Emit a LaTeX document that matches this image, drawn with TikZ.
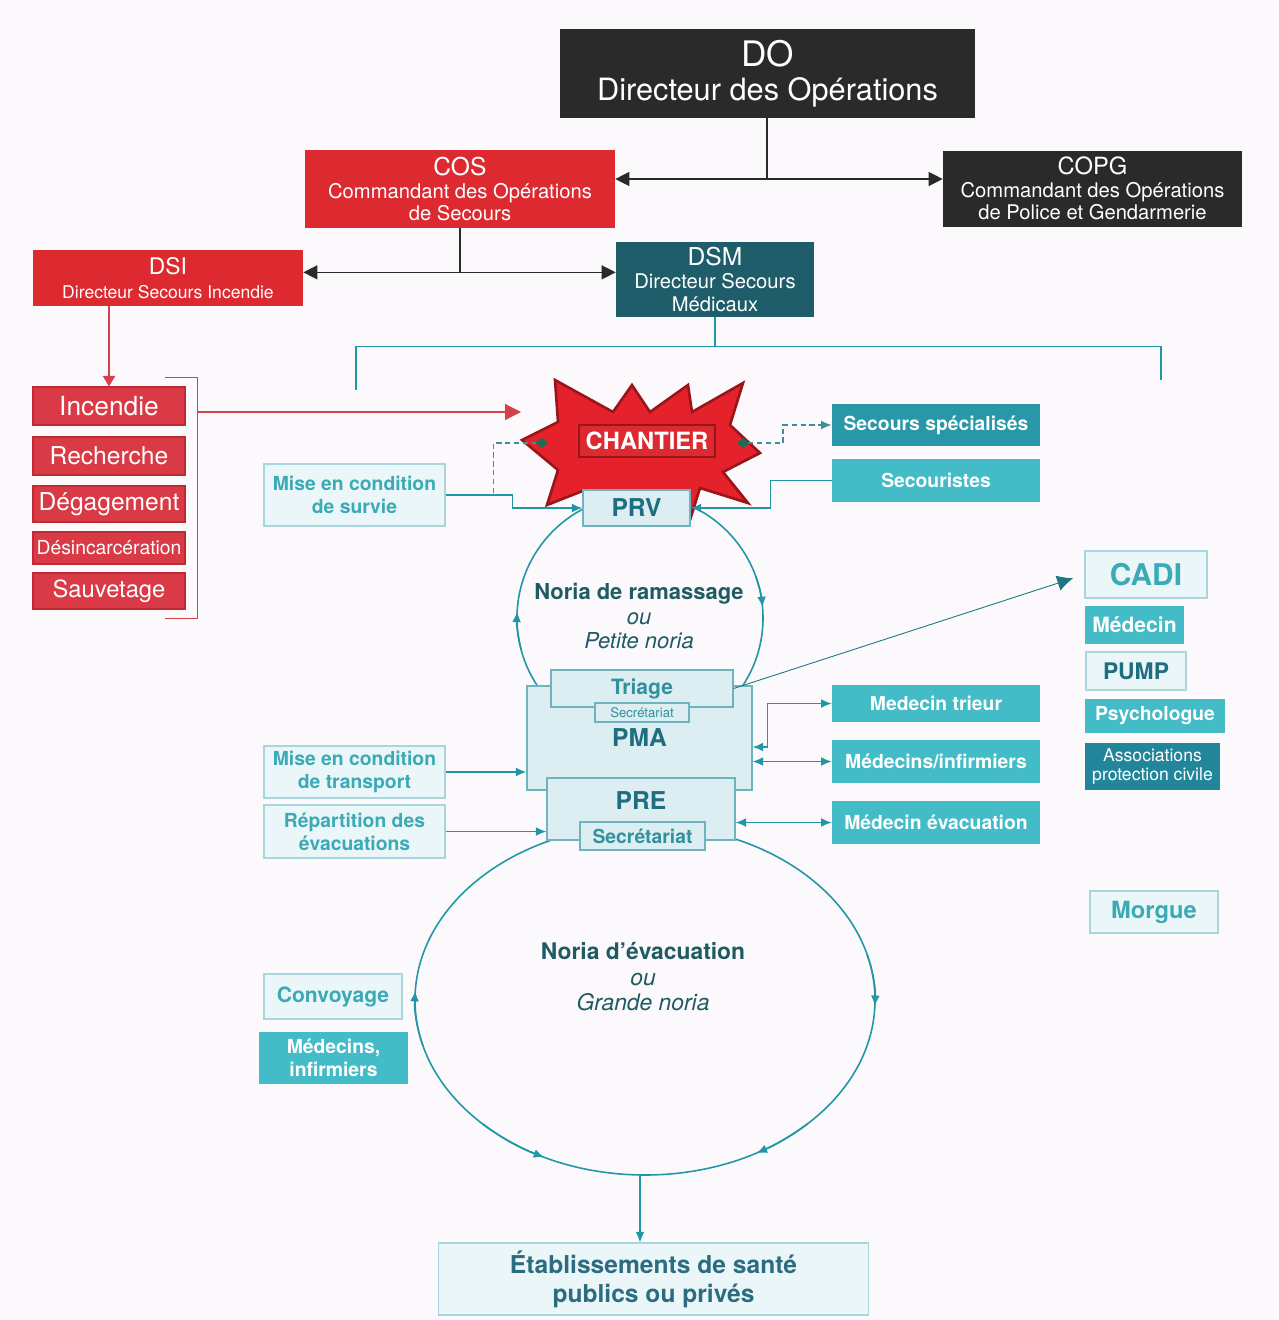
\documentclass[tikz,border=0pt]{standalone}
\usepackage{fontspec}
\setmainfont{TeX Gyre Heros}
\usepackage{xcolor}
\usepackage{tikz}
\usetikzlibrary{arrows.meta,positioning,calc}

\definecolor{bgpaper}{HTML}{FCF9FC}
\definecolor{dochar}{HTML}{2A2A2A}
\definecolor{cosred}{HTML}{DD2A31}
\definecolor{actred}{HTML}{D93A45}
\definecolor{actredline}{HTML}{BF2A35}
\definecolor{redline}{HTML}{D4414B}
\definecolor{dsmteal}{HTML}{1E5D69}
\definecolor{tealA}{HTML}{43BCC8}
\definecolor{tealB}{HTML}{2898A8}
\definecolor{tealC}{HTML}{21869A}
\definecolor{lightfill}{HTML}{EBF6F8}
\definecolor{lightline}{HTML}{A9D5DC}
\definecolor{lighttext}{HTML}{3AAAB7}
\definecolor{postfill}{HTML}{DCEEF1}
\definecolor{postline}{HTML}{6EB4BF}
\definecolor{posttext}{HTML}{1F6E7F}
\definecolor{flowteal}{HTML}{2196A6}
\definecolor{noriadark}{HTML}{1F5B62}
\definecolor{etabtext}{HTML}{2B6C80}
\definecolor{burstred}{HTML}{E5222B}
\definecolor{burstline}{HTML}{9A1519}
\definecolor{markgreen}{HTML}{1F6B57}

\newcommand{\fsz}[2]{\fontsize{#1}{#2}\selectfont}

\begin{document}
\begin{tikzpicture}[x=0.02cm, y=-0.02cm,
    chief/.style={fill=dochar, text=white, inner sep=0pt, align=center},
    cosbox/.style={fill=cosred, text=white, inner sep=0pt, align=center},
    dsmbox/.style={fill=dsmteal, text=white, inner sep=0pt, align=center},
    actbox/.style={fill=actred, draw=actredline, line width=0.6pt, text=white, inner sep=0pt, minimum width=3.04cm},
    tealbox/.style={fill=tealA, text=white, inner sep=0pt, align=center, font=\bfseries\fsz{11}{13}},
    lightbox/.style={fill=lightfill, draw=lightline, line width=0.6pt, text=lighttext, inner sep=0pt, align=center, font=\bfseries\fsz{11}{13}},
    postbox/.style={fill=postfill, draw=postline, line width=0.7pt, text=posttext, inner sep=0pt, font=\bfseries\fsz{14}{16}},
    noriatext/.style={text=noriadark, align=center, font=\fsz{12.5}{14}},
    orgline/.style={draw=dochar, line width=0.7pt},
    orgarrows/.style={{Triangle[length=8pt,width=8pt]}-{Triangle[length=8pt,width=8pt]}},
    redflow/.style={draw=redline, line width=0.7pt},
    flow/.style={draw=flowteal, line width=0.8pt},
    thinflow/.style={draw=flowteal!80!black, line width=0.5pt},
    dashflow/.style={draw=flowteal!70!gray, line width=0.8pt, dash pattern=on 3pt off 2pt},
    flowtip/.style={-{Latex[length=6pt,width=5pt]}},
    flowtips/.style={{Latex[length=6pt,width=5pt]}-{Latex[length=6pt,width=5pt]}},
    noria/.style={draw=flowteal, line width=0.9pt}
  ]
  \fill[bgpaper] (0,0) rectangle (1279,1320);

  % Commandement
  \node[chief, font=\fsz{17.5}{19.5}, minimum width=8.3cm, minimum height=1.78cm] (DO) at (767.5,73.5) {{\fsz{20}{24}DO}\\Directeur des Opérations};
  \node[cosbox, font=\fsz{11.5}{13}, minimum width=6.2cm, minimum height=1.56cm] (COS) at (460,189) {{\fsz{14}{16}COS}\\Commandant des Opérations\\de Secours};
  \node[chief, font=\fsz{11.5}{12.8}, minimum width=5.98cm, minimum height=1.52cm] (COPG) at (1092.5,188.5) {{\fsz{13.5}{16}COPG}\\Commandant des Opérations\\de Police et Gendarmerie};
  \node[cosbox, font=\fsz{10}{14}, minimum width=5.4cm, minimum height=1.12cm] (DSI) at (168,278) {{\fsz{13}{15}DSI}\\Directeur Secours Incendie};
  \node[dsmbox, font=\fsz{11.5}{13}, minimum width=3.96cm, minimum height=1.5cm] (DSM) at (715,279.5) {{\fsz{14}{15}DSM}\\Directeur Secours\\Médicaux};

  \coordinate (dojoint) at (767,179);
  \draw[orgline] (DO.south -| dojoint) -- (dojoint);
  \draw[orgline, orgarrows] (COS.east |- dojoint) -- (COPG.west |- dojoint);
  \draw[orgline] (COS.south) -- ++(0,44) coordinate (cosjoint);
  \draw[orgline, orgarrows] (DSI.east |- cosjoint) -- (DSM.west |- cosjoint);

  % Missions incendie
  \node[actbox, minimum height=0.76cm, font=\fsz{15}{17}] (incendie) at (109,406) {Incendie};
  \node[actbox, minimum height=0.76cm, font=\fsz{14}{16}] (recherche) at (109,456) {Recherche};
  \node[actbox, minimum height=0.72cm, font=\fsz{14}{16}] (degagement) at (109,504) {Dégagement};
  \node[actbox, minimum height=0.64cm, font=\fsz{11}{13}] (desinc) at (109,548) {Désincarcération};
  \node[actbox, minimum height=0.72cm, font=\fsz{13.5}{16}] (sauvetage) at (109,591) {Sauvetage};

  \draw[redflow, -{Triangle[length=6pt,width=7pt]}] (DSI.south -| incendie.north) -- (incendie.north);
  \coordinate (brtop) at (165,377);
  \coordinate (brbot) at (165,618);
  \coordinate (firein) at (521,412);
  \draw[redflow, line width=0.5pt] (brtop) -- ++(32,0) coordinate (brtopR) -- (brtopR |- brbot) -- (brbot);
  \draw[redflow, -{Triangle[length=9pt,width=9pt]}] (brtopR |- firein) -- (firein);

  % Secours medicaux
  \coordinate (dsmL) at (356,390);
  \coordinate (dsmR) at (1161,380);
  \draw[flow, line width=0.6pt] (DSM.south) -- ++(0,29) coordinate (dsmjoint);
  \draw[flow, line width=0.6pt] (dsmL) |- (dsmjoint) -| (dsmR);

  % Norias
  \draw[noria] (640,618) circle [radius=123];
  \draw[noria, flowtip] (521.2,649.8) arc [start angle=165, end angle=183, radius=123];
  \draw[noria, flowtip] (755.6,575.9) arc [start angle=-20, end angle=-5, radius=123];
  \draw[noria] (645,1000) ellipse [x radius=230, y radius=175];
  \draw[noria, flowtip] (422.8,1045.3) arc [start angle=165, end angle=183, x radius=230, y radius=175];
  \draw[noria, flowtip] (867.2,954.7) arc [start angle=-15, end angle=2, x radius=230, y radius=175];
  \draw[noria, flowtip] (807.6,1123.7) arc [start angle=45, end angle=61, x radius=230, y radius=175];
  \draw[noria, flowtip] (482.4,1123.7) arc [start angle=135, end angle=116, x radius=230, y radius=175];

  % Chantier
  \draw[fill=burstred, draw=burstline, line width=1.5pt, line join=miter]
    (555,380) -- (613,412) -- (632,385) -- (650,412) -- (688,385) -- (692,412) -- (743,383)
    -- (730,425) -- (760,453) -- (723,472) -- (748,503) -- (700,488) -- (690,520) -- (600,520)
    -- (585,490) -- (547,505) -- (558,470) -- (522,440) -- (558,422) -- cycle;
  \node[fill=cosred, draw=burstline, line width=1.6pt, text=white, font=\bfseries\fsz{13.5}{16},
        minimum width=2.72cm, minimum height=0.64cm, inner sep=0pt] (chantier) at (647,441) {CHANTIER};
  \coordinate (burstL) at (548,443);
  \coordinate (burstR) at (737,443);

  \node[tealbox, fill=tealB, minimum width=4.16cm, minimum height=0.84cm] (secspec) at (936,425) {Secours spécialisés};
  \node[tealbox, minimum width=4.16cm, minimum height=0.86cm] (secouristes) at (936,480.5) {Secouristes};
  \node[lightbox, minimum width=3.62cm, minimum height=1.24cm] (survie) at (354.5,495) {Mise en condition\\de survie};
  \node[postbox, minimum width=2.14cm, minimum height=0.72cm] (PRV) at (636.5,508) {PRV};

  \node[noriatext] (petitenoria) at (639,616) {{\bfseries Noria de ramassage}\\{\itshape ou}\\{\itshape Petite noria}};

  % PMA / PRE
  \node[postbox, minimum width=4.5cm, minimum height=2.08cm] (PMA) at (639.5,738) {PMA};
  \node[postbox, text=lighttext!85!black, font=\bfseries\fsz{12}{14}, minimum width=3.64cm, minimum height=0.74cm] (triage) at (642,688.5) {Triage};
  \node[postbox, text=lighttext!85!black, font=\fsz{7.5}{9}, minimum width=1.88cm, minimum height=0.38cm] (secretA) at (642,712.5) {Secrétariat};
  \node[postbox, minimum width=3.76cm, minimum height=1.24cm, text depth=0.35cm] (PRE) at (641,809) {PRE};
  \node[postbox, text=lighttext!85!black, font=\bfseries\fsz{11}{13}, minimum width=2.5cm, minimum height=0.56cm] (secretB) at (642.5,836) {Secrétariat};

  \node[tealbox, minimum width=4.16cm, minimum height=0.74cm] (trieur) at (936,703.5) {Medecin trieur};
  \node[tealbox, minimum width=4.16cm, minimum height=0.86cm] (medinf) at (936,761.5) {Médecins/infirmiers};
  \node[tealbox, minimum width=4.16cm, minimum height=0.86cm] (medevac) at (936,822.5) {Médecin évacuation};

  \node[lightbox, minimum width=3.62cm, minimum height=1.04cm] (transport) at (354.5,772) {Mise en condition\\de transport};
  \node[lightbox, minimum width=3.62cm, minimum height=1.06cm] (repartition) at (354.5,831.5) {Répartition des\\évacuations};

  % CADI
  \node[lightbox, font=\bfseries\fsz{17}{20}, minimum width=2.44cm, minimum height=0.94cm] (CADI) at (1146,574.5) {CADI};
  \node[tealbox, font=\bfseries\fsz{12}{14}, minimum width=1.98cm, minimum height=0.76cm] (cadimed) at (1134.5,625) {Médecin};
  \node[lightbox, text=posttext, font=\bfseries\fsz{13}{15}, minimum width=2cm, minimum height=0.76cm] (PUMP) at (1136,671) {PUMP};
  \node[tealbox, minimum width=2.8cm, minimum height=0.68cm] (psy) at (1155,716) {Psychologue};
  \node[tealbox, fill=tealC, font=\fsz{10}{11}, minimum width=2.7cm, minimum height=0.94cm] (asso) at (1152.5,766.5) {Associations\\protection civile};
  \node[lightbox, font=\bfseries\fsz{13.5}{16}, minimum width=2.56cm, minimum height=0.84cm] (morgue) at (1154,912) {Morgue};

  % Evacuation
  \node[noriatext, font=\fsz{13}{14.5}] (grandenoria) at (643,977) {{\bfseries Noria d’évacuation}\\{\itshape ou}\\{\itshape Grande noria}};
  \node[lightbox, font=\bfseries\fsz{12}{14}, minimum width=2.76cm, minimum height=0.9cm] (convoyage) at (333,996.5) {Convoyage};
  \node[tealbox, minimum width=2.98cm, minimum height=1.04cm] (convmed) at (333.5,1058) {Médecins,\\infirmiers};
  \node[lightbox, text=etabtext, font=\bfseries\fsz{14}{16.5}, minimum width=8.62cm, minimum height=1.44cm] (etab) at (653.5,1279) {Établissements de santé\\publics ou privés};

  % Liaisons
  \draw[flow, flowtip] (survie.east) -- ++(48,0) coordinate (survjoint) -- ++(19,0) |- (PRV.west);
  \draw[dashflow, {Diamond[length=7pt,width=6pt,color=markgreen]}-] (burstL) -| (survjoint);
  \draw[dashflow, {Diamond[length=7pt,width=6pt,color=markgreen]}-{Latex[length=6pt,width=5pt]}] (burstR) -- ++(46,0) |- (secspec.west);
  \draw[flow, flowtip] (secouristes.west) -- ++(-61,0) |- (PRV.east);
  \draw[thinflow, -{Latex[length=9pt,width=9pt]}, shorten >=0.24cm] (triage.east) -- (CADI.west);
  \draw[flow, flowtips] (trieur.west) -- ++(-64,0) |- ($(PMA.east)+(0,9)$);
  \draw[flow, flowtips] (medinf.west) -- (medinf.west -| PMA.east);
  \draw[flow, flowtips] (medevac.west) -- (medevac.west -| PRE.east);
  \draw[flow, flowtip] (transport.east) -- (transport.east -| PMA.west);
  \draw[flow, flowtip] (repartition.east) -- (repartition.east -| PRE.west);
  \coordinate (noriabot) at (640,1175);
  \draw[flow, flowtip] (noriabot) -- (noriabot |- etab.north);
\end{tikzpicture}
\end{document}
